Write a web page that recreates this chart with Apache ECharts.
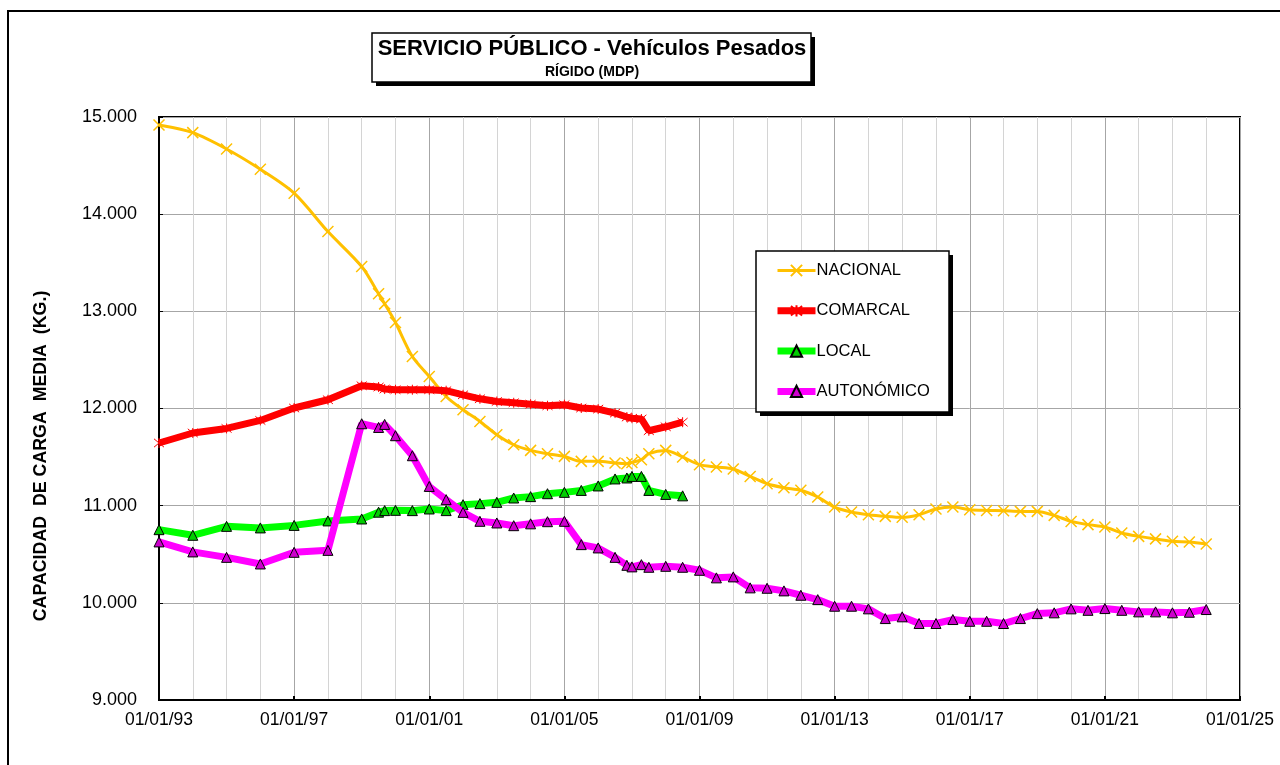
<!DOCTYPE html>
<html>
<head>
<meta charset="utf-8">
<title>Servicio público - Vehículos pesados</title>
<script src="https://cdn.jsdelivr.net/npm/echarts@6/dist/echarts.min.js"></script>
<style>
    html, body { margin: 0; padding: 0; background: #fff; }
    #chart { width: 1280px; height: 765px; }
</style>
</head>
<body>
<div id="chart"></div>
<script type="text/javascript">
    // fechas en años decimales (1999.5 = mediados de 1999)
    var fechas = [1993, 1994, 1995, 1996, 1997, 1998, 1999, 1999.5, 1999.68, 2000,
        2000.5, 2001, 2001.5, 2002, 2002.5, 2003, 2003.5, 2004, 2004.5, 2005,
        2005.5, 2006, 2006.5, 2006.85, 2007, 2007.28, 2007.5, 2008, 2008.5, 2009,
        2009.5, 2010, 2010.5, 2011, 2011.5, 2012, 2012.5, 2013, 2013.5, 2014,
        2014.5, 2015, 2015.5, 2016, 2016.5, 2017, 2017.5, 2018, 2018.5, 2019,
        2019.5, 2020, 2020.5, 2021, 2021.5, 2022, 2022.5, 2023, 2023.5, 2024];

    var nacional = [14918, 14839, 14671, 14462, 14216, 13821, 13461, 13180, 13077, 12885,
        12535, 12330, 12124, 11987, 11867, 11730, 11627, 11569, 11535, 11507,
        11456, 11456, 11439, 11432, 11445, 11473, 11535, 11569, 11501, 11422,
        11398, 11377, 11301, 11226, 11185, 11159, 11089, 10986, 10935, 10907,
        10890, 10880, 10907, 10966, 10986, 10958, 10951, 10948, 10941, 10941,
        10900, 10838, 10805, 10781, 10719, 10684, 10658, 10633, 10627, 10606];

    var comarcal = [11645, 11748, 11795, 11877, 12005, 12090, 12234, 12221, 12200, 12193,
        12193, 12193, 12183, 12141, 12100, 12072, 12059, 12044, 12028, 12039,
        12005, 11994, 11953, 11912, 11900, 11892, 11771, 11812, 11859];

    var local = [10753, 10695, 10787, 10771, 10797, 10843, 10863, 10933, 10949, 10952,
        10949, 10966, 10949, 11010, 11021, 11034, 11079, 11093, 11123, 11137,
        11157, 11203, 11275, 11285, 11301, 11301, 11157, 11116, 11101];

    var autonomico = [10627, 10524, 10468, 10400, 10520, 10540, 11843, 11805, 11836, 11720,
        11514, 11198, 11062, 10931, 10839, 10822, 10794, 10813, 10835, 10839,
        10599, 10565, 10468, 10386, 10370, 10393, 10366, 10376, 10366, 10335,
        10257, 10267, 10154, 10150, 10123, 10078, 10033, 9965, 9965, 9938,
        9838, 9856, 9787, 9787, 9828, 9810, 9810, 9787, 9838, 9889,
        9897, 9938, 9923, 9941, 9923, 9907, 9907, 9897, 9903, 9931];

    var anyoInicio = 1993;
    var anyoFin = 2025;

    var fuente = 'Arial, "Liberation Sans", sans-serif';
    var simboloX = 'path://M0,0L10,10M10,0L0,10';
    var simboloAst = 'path://M0,0L10,10M10,0L0,10M5,-1L5,11';

    function pares(valores) {
        return valores.map(function (v, i) {
            return [fechas[i] - anyoInicio, v];
        });
    }

    function dos(n) {
        n = n % 100;
        return (n < 10 ? '0' : '') + n;
    }

    // caja con sombra negra, como las de Excel
    function caja(x, y, w, h) {
        return [
            {
                type: 'rect',
                shape: { x: x + 4, y: y + 4, width: w, height: h },
                style: { fill: '#000' },
                silent: true,
                z: 10
            },
            {
                type: 'rect',
                shape: { x: x, y: y, width: w, height: h },
                style: { fill: '#fff', stroke: '#000', lineWidth: 1.5 },
                silent: true,
                z: 11
            }
        ];
    }

    var chart = echarts.init(document.getElementById('chart'));

    var option = {};
    option.animation = false;
    option.backgroundColor = '#fff';
    option.title = {
        text: 'SERVICIO PÚBLICO - Vehículos Pesados',
        subtext: 'RÍGIDO (MDP)',
        left: 586,
        top: 34,
        textAlign: 'center',
        padding: [4, 6, 4, 6],
        itemGap: 5,
        z: 20,
        textStyle: { fontFamily: fuente, fontSize: 22, fontWeight: 'bold', color: '#000' },
        subtextStyle: { fontFamily: fuente, fontSize: 14, fontWeight: 'bold', color: '#000' }
    };
    option.legend = {
        orient: 'vertical',
        left: 756,
        top: 251,
        z: 20,
        padding: [11, 18, 14, 18],
        itemWidth: 38,
        itemHeight: 14,
        itemGap: 23.3,
        lineStyle: { width: 'inherit' },
        textStyle: { fontFamily: fuente, fontSize: 16.5, color: '#000', padding: [0, 0, 0, -4] },
        data: ['NACIONAL', 'COMARCAL', 'LOCAL', 'AUTONÓMICO']
    };
    option.grid = {
        left: 159,
        right: 40,
        top: 117,
        bottom: 65,
        show: true,
        borderColor: '#000',
        borderWidth: 2
    };
    option.xAxis = {
        type: 'value',
        min: 0,
        max: anyoFin - anyoInicio,
        interval: 4,
        axisLine: { show: true, lineStyle: { color: '#000', width: 2 } },
        axisTick: { show: true, inside: true, length: 4, lineStyle: { color: '#000', width: 2 } },
        minorTick: { show: false, splitNumber: 4 },
        splitLine: { show: true, lineStyle: { color: '#a6a6a6', width: 1 } },
        minorSplitLine: { show: true, lineStyle: { color: '#d4d4d4', width: 1 } },
        axisLabel: {
            fontFamily: fuente,
            fontSize: 17.5,
            color: '#000',
            margin: 11,
            formatter: function (v) {
                return '01/01/' + dos(anyoInicio + v);
            }
        }
    };
    option.yAxis = {
        type: 'value',
        min: 9000,
        max: 15000,
        interval: 1000,
        axisLine: { show: true, lineStyle: { color: '#000', width: 2 } },
        axisTick: { show: true, inside: true, length: 4, lineStyle: { color: '#000', width: 1 } },
        splitLine: { show: true, lineStyle: { color: '#a6a6a6', width: 1 } },
        axisLabel: {
            fontFamily: fuente,
            fontSize: 18,
            color: '#000',
            margin: 22,
            formatter: function (v) {
                return (v / 1000).toFixed(3);
            }
        }
    };
    option.graphic = [
        {
            type: 'rect',
            shape: { x: 8, y: 11, width: 1300, height: 800 },
            style: { fill: 'none', stroke: '#000', lineWidth: 2 },
            silent: true,
            z: -10
        },
        {
            type: 'text',
            x: 41,
            y: 456,
            rotation: Math.PI / 2,
            style: {
                text: 'CAPACIDAD  DE CARGA  MEDIA  (KG.)',
                font: 'bold 17.8px ' + fuente,
                fill: '#000',
                align: 'center',
                verticalAlign: 'middle'
            }
        }
    ].concat(caja(372, 33, 439, 49), caja(756, 251, 193, 161));
    option.series = [
        {
            name: 'NACIONAL',
            type: 'line',
            smooth: 0.3,
            data: pares(nacional),
            symbol: simboloX,
            symbolSize: 11,
            lineStyle: { color: '#FFC000', width: 3 },
            itemStyle: { color: '#FFC000', borderColor: '#FFC000', borderWidth: 1.5 },
            z: 2
        },
        {
            name: 'COMARCAL',
            type: 'line',
            data: pares(comarcal),
            symbol: simboloAst,
            symbolSize: 10,
            lineStyle: { color: '#FF0000', width: 7 },
            itemStyle: { color: '#FF0000', borderColor: '#FF0000', borderWidth: 1 },
            z: 3
        },
        {
            name: 'LOCAL',
            type: 'line',
            data: pares(local),
            symbol: 'triangle',
            symbolSize: 10,
            lineStyle: { color: '#00FF00', width: 7 },
            itemStyle: { color: '#00CC00', borderColor: '#000', borderWidth: 1 },
            z: 4
        },
        {
            name: 'AUTONÓMICO',
            type: 'line',
            data: pares(autonomico),
            symbol: 'triangle',
            symbolSize: 10,
            lineStyle: { color: '#FF00FF', width: 7 },
            itemStyle: { color: '#CC00CC', borderColor: '#000', borderWidth: 1 },
            z: 5
        }
    ];

    chart.setOption(option);
</script>
</body>
</html>
